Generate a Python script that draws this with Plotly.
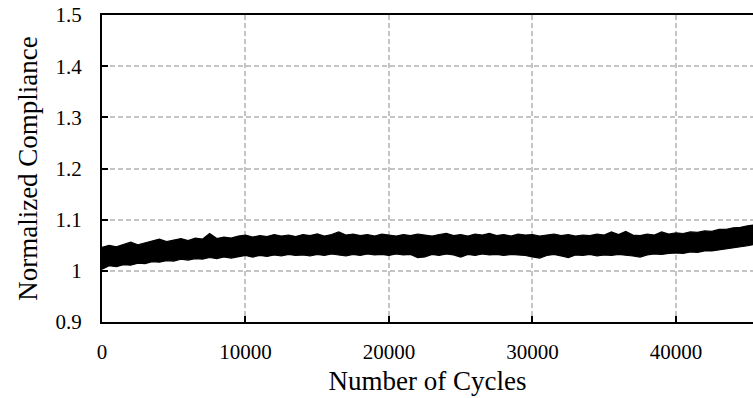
import plotly.graph_objects as go

# Cycle count at each sampled position
cycles = [
    0, 500, 1000, 1500, 2000, 2500, 3000, 3500, 4000, 4500,
    5000, 5500, 6000, 6500, 7000, 7500, 8000, 8500, 9000, 9500,
    10000, 10500, 11000, 11500, 12000, 12500, 13000, 13500, 14000, 14500,
    15000, 15500, 16000, 16500, 17000, 17500, 18000, 18500, 19000, 19500,
    20000, 20500, 21000, 21500, 22000, 22500, 23000, 23500, 24000, 24500,
    25000, 25500, 26000, 26500, 27000, 27500, 28000, 28500, 29000, 29500,
    30000, 30500, 31000, 31500, 32000, 32500, 33000, 33500, 34000, 34500,
    35000, 35500, 36000, 36500, 37000, 37500, 38000, 38500, 39000, 39500,
    40000, 40500, 41000, 41500, 42000, 42500, 43000, 43500, 44000, 44500,
    45000, 45500,
]

# Upper edge of the measured compliance scatter
compliance_high = [
    1.046, 1.050, 1.047, 1.052, 1.056, 1.051, 1.055, 1.058, 1.062, 1.057,
    1.060, 1.063, 1.059, 1.064, 1.062, 1.073, 1.063, 1.066, 1.064, 1.068,
    1.070, 1.066, 1.069, 1.067, 1.071, 1.068, 1.070, 1.067, 1.071, 1.069,
    1.072, 1.068, 1.071, 1.076, 1.070, 1.072, 1.069, 1.071, 1.068, 1.072,
    1.070, 1.068, 1.071, 1.069, 1.072, 1.070, 1.068, 1.071, 1.073, 1.069,
    1.071, 1.068, 1.072, 1.070, 1.073, 1.069, 1.071, 1.068, 1.072, 1.070,
    1.071, 1.068, 1.070, 1.072, 1.069, 1.071, 1.068, 1.070, 1.069, 1.072,
    1.070, 1.076, 1.071, 1.077, 1.070, 1.069, 1.072, 1.070, 1.076, 1.072,
    1.074, 1.073, 1.076, 1.075, 1.078, 1.077, 1.081, 1.081, 1.084, 1.085,
    1.088, 1.090,
]

# Lower edge of the measured compliance scatter
compliance_low = [
    1.003, 1.010, 1.008, 1.012, 1.011, 1.015, 1.014, 1.018, 1.017, 1.020,
    1.019, 1.023, 1.021, 1.024, 1.023, 1.026, 1.024, 1.027, 1.025, 1.028,
    1.030, 1.027, 1.030, 1.028, 1.031, 1.029, 1.032, 1.030, 1.031, 1.029,
    1.032, 1.030, 1.033, 1.031, 1.029, 1.032, 1.030, 1.033, 1.031, 1.032,
    1.030, 1.033, 1.031, 1.032, 1.026, 1.027, 1.032, 1.030, 1.033, 1.031,
    1.027, 1.032, 1.030, 1.033, 1.031, 1.032, 1.030, 1.032, 1.031, 1.030,
    1.027, 1.025, 1.030, 1.032, 1.029, 1.026, 1.031, 1.030, 1.032, 1.029,
    1.031, 1.030, 1.032, 1.031, 1.029, 1.027, 1.031, 1.033, 1.032, 1.034,
    1.035, 1.034, 1.037, 1.036, 1.039, 1.039, 1.041, 1.042, 1.045, 1.046,
    1.049, 1.052,
]

x_ticks = [0, 10000, 20000, 30000, 40000]
y_ticks = [0.9, 1.0, 1.1, 1.2, 1.3, 1.4, 1.5]
y_tick_labels = ["0.9", "1", "1.1", "1.2", "1.3", "1.4", "1.5"]

FONT = "Liberation Serif"

fig = go.Figure()
fig.add_trace(go.Scatter(
    x=cycles, y=compliance_low, mode="lines",
    line=dict(color="black", width=1.2), showlegend=False, hoverinfo="skip",
))
fig.add_trace(go.Scatter(
    x=cycles, y=compliance_high, mode="lines", fill="tonexty",
    fillcolor="black", line=dict(color="black", width=1.2),
    showlegend=False, hoverinfo="skip",
))

grid = dict(showgrid=True, gridcolor="#c4c4c4", gridwidth=1.5, griddash="5px,3px")

fig.update_layout(
    width=753, height=398,
    margin=dict(l=102, r=0, t=15, b=76),
    paper_bgcolor="white", plot_bgcolor="white",
    font=dict(family=FONT, color="black", size=21),
    xaxis=dict(
        range=[0, 45370], tickvals=x_ticks, tickformat="d",
        ticks="inside", ticklen=6, tickwidth=1.5, tickcolor="black",
        showline=True, linecolor="black", linewidth=2, mirror=True,
        zeroline=False, ticklabelstandoff=10,
        tickfont=dict(family=FONT, size=21),
        title=dict(text="Number of Cycles", font=dict(family=FONT, size=27), standoff=8),
        **grid,
    ),
    yaxis=dict(
        range=[0.9, 1.5], tickvals=y_ticks, ticktext=y_tick_labels,
        ticks="inside", ticklen=6, tickwidth=1.5, tickcolor="black",
        showline=True, linecolor="black", linewidth=2, mirror=False,
        zeroline=False, ticklabelstandoff=14,
        tickfont=dict(family=FONT, size=21),
        title=dict(text="Normalized Compliance", font=dict(family=FONT, size=27), standoff=10),
        **grid,
    ),
)

fig.write_html("out.html")
